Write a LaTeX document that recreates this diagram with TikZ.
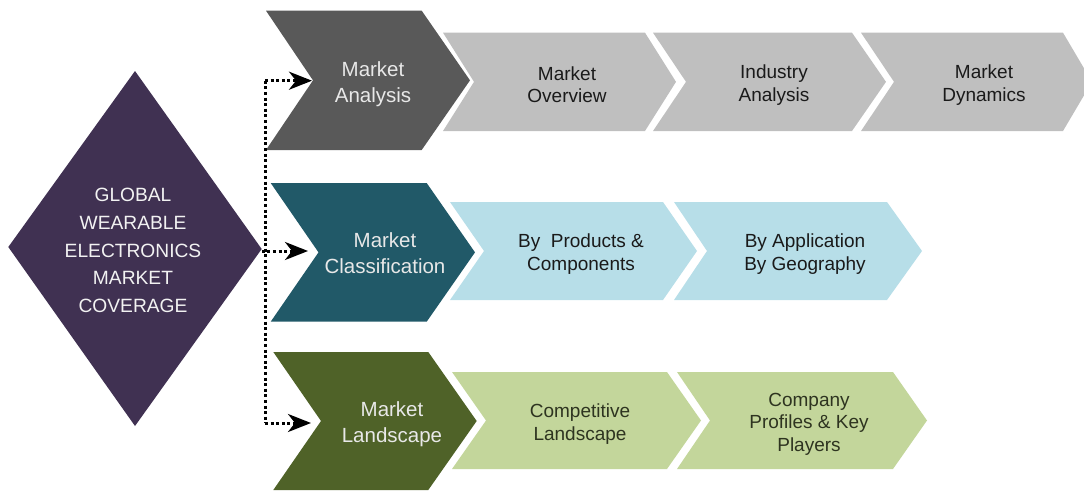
\documentclass[tikz,border=0pt]{standalone}
\usepackage{fontspec}
\setmainfont{Liberation Sans}
\usetikzlibrary{arrows.meta}
\definecolor{diapurple}{HTML}{403152}
\definecolor{maingray}{HTML}{595959}
\definecolor{subgray}{HTML}{BFBFBF}
\definecolor{mainteal}{HTML}{215968}
\definecolor{subblue}{HTML}{B7DEE8}
\definecolor{mainolive}{HTML}{4F6228}
\definecolor{subgreen}{HTML}{C3D69B}
\definecolor{lighttext}{HTML}{E8E8E8}
\definecolor{darktext}{HTML}{1A1A1A}
\definecolor{olivetext}{HTML}{2E3420}
\newcommand\mychev[7]{%
  \fill[#1] (#2,#3) -- (#4,#3) -- (#5,{(#3+#6)/2}) -- (#4,#6) -- (#2,#6) -- (#7,{(#3+#6)/2}) -- cycle;}
\begin{document}
\begin{tikzpicture}[x=1pt,y=-1pt,
  maintext/.style={text=lighttext, align=center, inner sep=0pt, font=\fontsize{20.5}{26}\selectfont},
  subtext/.style={text=darktext, align=center, inner sep=0pt, font=\fontsize{19}{22.5}\selectfont},
  diatext/.style={text=white!95!black, align=center, inner sep=0pt, font=\fontsize{19.2}{27.7}\selectfont},
  dotline/.style={line width=3pt, dash pattern=on 3pt off 2.6pt, black},
  arr/.style={-{Stealth[length=23pt, width=18pt, inset=7pt]}}]
\useasboundingbox (0,0) rectangle (1084,490);
\clip (0,0) rectangle (1084,490);
% diamond
\fill[diapurple] (135,71) -- (261.7,249) -- (135,426) -- (8.3,247) -- cycle;
\coordinate (diaE) at (261.7,251);
\node[diatext] (dia) at (133,250.5) {GLOBAL\\WEARABLE\\ELECTRONICS\\MARKET\\COVERAGE};
% main chevrons
\mychev{maingray}{266}{10.7}{421.7}{470}{150}{313}
\mychev{mainteal}{270.7}{183}{426.7}{475}{321.7}{318.5}
\mychev{mainolive}{273.3}{352}{428.3}{476.7}{490}{321}
% row 1 sub chevrons
\mychev{subgray}{443}{32.7}{645}{676}{131}{474}
\mychev{subgray}{653}{32.7}{852}{886}{131}{686}
\mychev{subgray}{861}{32.7}{1063}{1092}{131}{894}
% row 2 sub chevrons
\mychev{subblue}{450}{202}{663}{697}{300}{484}
\mychev{subblue}{674}{202}{887}{922}{300}{707}
% row 3 sub chevrons
\mychev{subgreen}{452}{372}{667}{701}{469}{486}
\mychev{subgreen}{677}{372}{893}{927}{469}{710}
% texts
\node[maintext] (m1) at (373,84) {Market\\Analysis};
\node[maintext] (m2) at (385,253.5) {Market\\Classification};
\node[maintext] (m3) at (392,424.5) {Market\\Landscape};
\node[subtext] (s11) at (567,84.5) {Market\\Overview};
\node[subtext] (s12) at (774,85) {Industry\\Analysis};
\node[subtext] (s13) at (984,85) {Market\\Dynamics};
\node[subtext] (s21) at (581,254) {By\ \ Products \&\\Components};
\node[subtext] (s22) at (805,254) {By Application\\By Geography};
\node[subtext, text=olivetext] (s31) at (580,424) {Competitive\\Landscape};
\node[subtext, text=olivetext] (s32) at (809,424) {Company\\Profiles \& Key\\Players};
% connectors
\coordinate (j1) at (265,80.7);
\coordinate (j3) at (265,423);
\coordinate (a1) at (312,80.7);
\coordinate (a2) at (308,251);
\coordinate (a3) at (311,423);
\draw[dotline] (j1) -- (j3);
\draw[dotline, arr] (j1) -- (a1);
\draw[dotline, arr] (diaE) -- (a2);
\draw[dotline, arr] (j3) -- (a3);
\end{tikzpicture}
\end{document}
